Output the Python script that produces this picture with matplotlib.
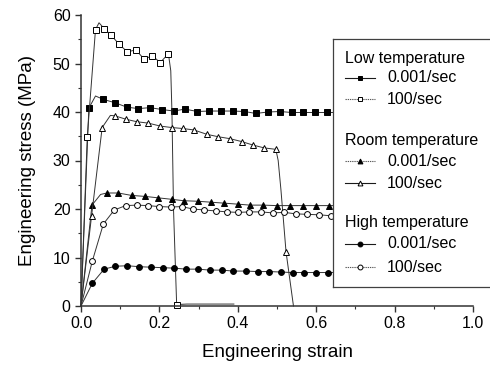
import matplotlib
matplotlib.use("Agg")
import matplotlib.pyplot as plt
from matplotlib.ticker import MultipleLocator

plt.rcParams['font.family'] = ['Liberation Sans', 'DejaVu Sans']

# low temperature
low_slow_x = [0, 0.02, 0.037, 0.057, 0.087, 0.117, 0.146, 0.176, 0.207, 0.237, 0.265, 0.297,
              0.327, 0.356, 0.387, 0.417, 0.446, 0.477, 0.508, 0.537, 0.567, 0.597, 0.628, 0.66]
low_slow_y = [0, 40.8, 43.3, 42.6, 41.9, 41.0, 40.7, 40.9, 40.5, 40.2, 40.6, 40.1,
              40.2, 40.2, 40.2, 40.1, 39.7, 40.0, 40.1, 39.9, 39.9, 39.9, 39.9, 39.9]
low_fast_x = [0, 0.016, 0.037, 0.046, 0.059, 0.076, 0.097, 0.118, 0.140, 0.161, 0.182,
              0.202, 0.223, 0.229, 0.232, 0.236, 0.244, 0.27, 0.39]
low_fast_y = [0, 34.9, 57.0, 58.4, 57.2, 55.9, 54.0, 52.4, 52.8, 50.9, 51.6,
              50.2, 52.0, 48.5, 40.0, 20.0, 0.3, 0.4, 0.4]

# room temperature
room_slow_x = [0, 0.028, 0.05, 0.066, 0.095, 0.129, 0.163, 0.197, 0.231, 0.263, 0.298,
               0.332, 0.366, 0.40, 0.431, 0.465, 0.499, 0.533, 0.566, 0.599, 0.633, 0.66]
room_slow_y = [0, 20.8, 23.0, 23.3, 23.3, 22.8, 22.6, 22.3, 22.0, 21.7, 21.6,
               21.4, 21.2, 21.0, 20.8, 20.8, 20.7, 20.7, 20.7, 20.7, 20.7, 20.7]
room_fast_x = [0, 0.027, 0.054, 0.075, 0.087, 0.115, 0.142, 0.172, 0.202, 0.231, 0.259,
               0.288, 0.321, 0.350, 0.380, 0.410, 0.438, 0.467, 0.497, 0.503, 0.510,
               0.523, 0.542]
room_fast_y = [0, 18.6, 36.8, 39.3, 39.2, 38.5, 38.0, 37.7, 37.1, 36.8, 36.6,
               36.3, 35.4, 34.9, 34.5, 33.9, 33.2, 32.6, 32.3, 30.0, 24.0,
               11.2, 0]

# high temperature
high_slow_x = [0, 0.029, 0.059, 0.088, 0.118, 0.149, 0.179, 0.208, 0.238, 0.268, 0.298,
               0.329, 0.359, 0.389, 0.42, 0.451, 0.48, 0.51, 0.54, 0.57, 0.6, 0.629, 0.66]
high_slow_y = [0, 4.7, 7.6, 8.2, 8.3, 8.1, 8.0, 7.9, 7.8, 7.6, 7.6,
               7.4, 7.4, 7.2, 7.2, 7.1, 7.1, 7.0, 6.9, 6.9, 6.9, 6.9, 6.9]
high_fast_x = [0, 0.029, 0.057, 0.085, 0.114, 0.142, 0.170, 0.2, 0.229, 0.257, 0.285,
               0.314, 0.344, 0.373, 0.401, 0.429, 0.459, 0.489, 0.519, 0.548, 0.577,
               0.608, 0.638, 0.66]
high_fast_y = [0, 9.3, 16.9, 19.8, 20.7, 20.8, 20.7, 20.5, 20.4, 20.5, 20.0,
               19.8, 19.6, 19.4, 19.3, 19.4, 19.4, 19.2, 19.3, 19.0, 18.9,
               18.8, 18.6, 18.6]

groups = ['Low temperature', 'Room temperature', 'High temperature']
rates = ['0.001/sec', '100/sec']

solid = dict(color='0.1', lw=0.8, linestyle='-')
dotted = dict(color='0.35', lw=0.8, linestyle=(0, (1.2, 0.8)))

series = [
    (low_slow_x, low_slow_y, 's', 'k', solid, [1] + list(range(3, 23))),
    (low_fast_x, low_fast_y, 's', 'w', dotted, [1, 2] + list(range(4, 13)) + [16]),
    (room_slow_x, room_slow_y, '^', 'k', dotted, [1] + list(range(3, 21))),
    (room_fast_x, room_fast_y, '^', 'w', solid, [1, 2] + list(range(4, 19)) + [21]),
    (high_slow_x, high_slow_y, 'o', 'k', solid, list(range(1, 22))),
    (high_fast_x, high_fast_y, 'o', 'w', dotted, list(range(1, 23))),
]

fig = plt.figure(figsize=(4.9, 3.69), dpi=100)
ax = fig.add_axes([81 / 490, 1 - 306 / 369, 392 / 490, 291 / 369])

for xs, ys, mk, fc, st, every in series:
    # curves themselves look like thin continuous lines in the plot area
    ax.plot(xs, ys, marker=mk, markersize=4.2, markerfacecolor=fc,
            markeredgecolor='k', markeredgewidth=0.7, markevery=every,
            clip_on=False, color='0.2', lw=0.7)

ax.set_xlim(0, 1.0)
ax.set_ylim(0, 60)
ax.xaxis.set_major_locator(MultipleLocator(0.2))
ax.xaxis.set_minor_locator(MultipleLocator(0.1))
ax.yaxis.set_major_locator(MultipleLocator(10))
ax.yaxis.set_minor_locator(MultipleLocator(5))
ax.xaxis.set_major_formatter(plt.FormatStrFormatter('%.1f'))
ax.spines['top'].set_visible(False)
ax.spines['right'].set_visible(False)
for s in ['left', 'bottom']:
    ax.spines[s].set_linewidth(1.1)
    ax.spines[s].set_color('0.2')
ax.tick_params(which='major', direction='out', length=4, width=1, colors='0.2',
               labelsize=11.5, labelcolor='k')
ax.tick_params(which='minor', direction='out', length=2.5, width=0.8, colors='0.2')
ax.set_xlabel('Engineering strain', fontsize=13.5, labelpad=9)
ax.set_ylabel('Engineering stress (MPa)', fontsize=13.5, labelpad=12)

# legend box, laid out in pixel units of the picture
lax = fig.add_axes([333 / 490, 1 - 287 / 369, (492 - 333) / 490, (287 - 39) / 369])
lax.set_xlim(333, 492)
lax.set_ylim(287, 39)
lax.set_xticks([])
lax.set_yticks([])
lax.spines['right'].set_visible(False)
for s in ['left', 'top', 'bottom']:
    lax.spines[s].set_linewidth(0.9)
    lax.spines[s].set_color('0.25')

row_y = [[58, 78, 99], [140, 161, 183], [223, 244, 267]]
for g, name in enumerate(groups):
    hy, y1, y2 = row_y[g]
    lax.text(345, hy, name, fontsize=11.5, va='center', ha='left')
    for r, yy in enumerate([y1, y2]):
        xs, ys, mk, fc, st, every = series[2 * g + r]
        lax.plot([345, 375], [yy, yy], **st)
        lax.plot([360], [yy], marker=mk, markersize=3.5, markerfacecolor=fc,
                 markeredgecolor='k', markeredgewidth=0.7, linestyle='none')
        lax.text(387, yy, rates[r], fontsize=11.5, va='center', ha='left')

fig.savefig('out.png', dpi=100)
